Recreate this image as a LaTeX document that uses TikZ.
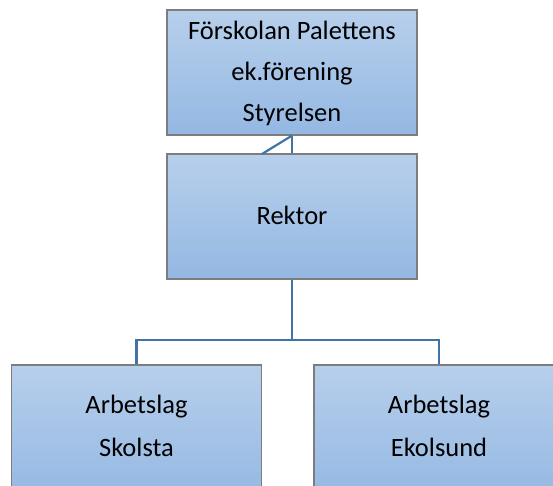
\documentclass[tikz,border=0pt]{standalone}
\usepackage{fontspec}
\setmainfont{Carlito}
\definecolor{boxtop}{RGB}{183,207,235}
\definecolor{boxbot}{RGB}{148,184,227}
\definecolor{boxline}{RGB}{125,125,128}
\definecolor{conn}{RGB}{66,115,166}
\newcommand\upstr[1]{\rule{0pt}{#1}}
\newcommand\dnstr[1]{\rule[-#1]{0pt}{0pt}}
\begin{document}
\begin{tikzpicture}[x=1pt,y=-1pt,
  orgbox/.style={draw=boxline, line width=1.2pt, top color=boxtop, bottom color=boxbot,
    minimum width=250pt, minimum height=125pt, inner sep=0pt, align=center,
    font=\fontsize{26.5}{41}\selectfont},
  lowbox/.style={orgbox, minimum height=135pt, font=\fontsize{26.5}{43}\selectfont},
  link/.style={draw=conn, line width=2.2pt}]
\useasboundingbox (0,0) rectangle (553,486);
\clip (0,0) rectangle (553,486);
\node[orgbox] (top) at (292,72.5) {\upstr{24pt}Förskolan Palettens\\ ek.förening\\ Styrelsen\dnstr{7pt}};
\node[orgbox] (rek) at (292,216.5) {\upstr{22pt}Rektor\dnstr{7pt}};
\node[lowbox] (sko) at (136.5,432.5) {\upstr{21pt}Arbetslag\\ Skolsta\dnstr{17pt}};
\node[lowbox] (eko) at (439,432.5) {\upstr{21pt}Arbetslag\\ Ekolsund\dnstr{17pt}};
\coordinate (dg) at (262,154);
\draw[link] (top.south) -- (rek.north);
\draw[link] (dg) -- (top.south);
\draw[link] (rek.south) -- ++(0,60) -| (sko.north);
\draw[link] (rek.south) -- ++(0,60) -| (eko.north);
\end{tikzpicture}
\end{document}
